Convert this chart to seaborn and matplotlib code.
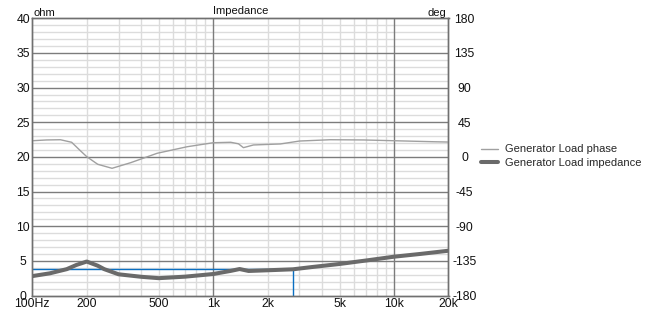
import numpy as np
import pandas as pd
import matplotlib
matplotlib.use("Agg")
import matplotlib.pyplot as plt
import matplotlib.ticker as mticker
import seaborn as sns

# ---- data ----
imp_freq = [100, 125, 155, 175, 200, 230, 250, 300, 400, 500, 700, 1000,
            1250, 1400, 1570, 2000, 2760, 3500, 5000, 7000, 10000, 14000, 20000]
imp_ohm = [2.8, 3.2, 3.8, 4.4, 4.9, 4.3, 3.8, 3.06, 2.7, 2.5, 2.72, 3.1,
           3.55, 3.82, 3.54, 3.64, 3.78, 4.1, 4.55, 5.05, 5.6, 6.0, 6.46]

ph_freq = [100, 120, 143, 165, 185, 200, 230, 276, 350, 490, 718, 1000,
           1250, 1380, 1470, 1670, 2350, 3000, 4450, 6800, 10000, 16500, 20000]
ph_deg = [21, 22, 22.3, 19, 7.7, 0.3, -9.6, -14.8, -7.5, 4.7, 13.2, 18.4,
          19, 17, 12, 15.5, 16.8, 20.6, 22.3, 22, 21, 19.7, 19.3]

cursor_freq = 2760
cursor_ohm = 3.78

x_ticks = [100, 200, 500, 1000, 2000, 5000, 10000, 20000]
x_labels = ["100Hz", "200", "500", "1k", "2k", "5k", "10k", "20k"]
y_ticks = [0, 5, 10, 15, 20, 25, 30, 35, 40]
deg_ticks = [-180, -135, -90, -45, 0, 45, 90, 135, 180]

# ---- style ----
sns.set_style("white")
plt.rcParams['font.family'] = ['Liberation Sans', 'DejaVu Sans']
plt.rcParams['font.size'] = 8
plt.rcParams['axes.unicode_minus'] = False

FS = 8
TK = 8.8
TXT = "#111111"
MAJ = "#7c7c7c"
MIN = "#dcdcdc"

fig = plt.figure(figsize=(6.49, 3.13), dpi=100)
ax = fig.add_axes([32.3 / 649, (313 - 295.5) / 313, (448.5 - 32.3) / 649, (295.5 - 18.3) / 313])
ax2 = ax.twinx()

ax.set_xscale("log")
ax.set_xlim(100, 20000)
ax.set_ylim(0, 40)
ax2.set_ylim(-180, 180)

# grid drawn manually: minor first, major over it
minor_x = [m * d for d in (100, 1000, 10000) for m in range(2, 10) if m * d <= 20000]
for f in minor_x:
    ax.axvline(f, color=MIN, lw=1.0, zorder=0.3)
for v in range(1, 40):
    if v % 5:
        ax.axhline(v, color=MIN, lw=1.0, zorder=0.3)
for f in [1000, 10000]:
    ax.axvline(f, color=MAJ, lw=1.0, zorder=0.6)
for v in range(5, 40, 5):
    ax.axhline(v, color=MAJ, lw=1.0, zorder=0.6)

ax.xaxis.set_minor_locator(mticker.NullLocator())
ax.set_xticks(x_ticks)
ax.set_xticklabels(x_labels)
ax.set_yticks(y_ticks)
ax2.set_yticks(deg_ticks)
ax.grid(False)
ax2.grid(False)

ax.tick_params(axis="both", which="both", length=0, labelsize=TK, labelcolor=TXT)
ax.tick_params(axis="y", pad=6.5)
ax.tick_params(axis="x", pad=1.5)
ax2.tick_params(axis="y", length=0, pad=11.5, labelsize=TK, labelcolor=TXT)
for t in ax.get_yticklabels():
    t.set_horizontalalignment("center")
for t in ax2.get_yticklabels():
    t.set_horizontalalignment("center")

for a in (ax, ax2):
    for s in a.spines.values():
        s.set_color("#707070")
        s.set_linewidth(1.0)

# cursor
ax.plot([100, cursor_freq], [cursor_ohm, cursor_ohm], color="#0a6fc2", lw=1.0, zorder=2)
ax.plot([cursor_freq, cursor_freq], [0, cursor_ohm], color="#0a6fc2", lw=1.0, zorder=2)

# data lines
df_imp = pd.DataFrame({"f": imp_freq, "z": imp_ohm})
df_ph = pd.DataFrame({"f": ph_freq, "p": ph_deg})
sns.lineplot(data=df_ph, x="f", y="p", ax=ax2, color="#a0a0a0", lw=1.0,
             label="Generator Load phase", legend=False)
sns.lineplot(data=df_imp, x="f", y="z", ax=ax, color="#6a6a6a", lw=2.9,
             label="Generator Load impedance", legend=False, zorder=3)
for a in (ax, ax2):
    a.set_xlabel("")
    a.set_ylabel("")

ax.set_title("Impedance", fontsize=FS, pad=3, color=TXT)
fig.text(34 / 649, 1 - 15.5 / 313, "ohm", fontsize=FS, ha="left", va="baseline", color=TXT)
fig.text(446 / 649, 1 - 15.5 / 313, "deg", fontsize=FS, ha="right", va="baseline", color=TXT)

h1, l1 = ax2.get_legend_handles_labels()
h2, l2 = ax.get_legend_handles_labels()
fig.legend(h1 + h2, l1 + l2, loc="upper left", bbox_to_anchor=(481 / 649, 1 - 144.5 / 313),
           frameon=False, fontsize=FS, handlelength=1.55, handletextpad=0.6,
           labelspacing=0.3, borderaxespad=0, borderpad=0)

fig.savefig("out.png", dpi=100)
